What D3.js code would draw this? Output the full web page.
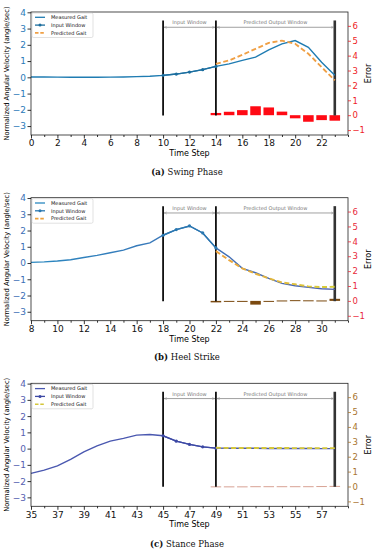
<!DOCTYPE html>
<html>
<head>
<meta charset="utf-8">
<script src="https://cdn.jsdelivr.net/npm/d3@7"></script>
<style>
  body{margin:0;background:#fff;}
  svg text{font-family:"DejaVu Sans",sans-serif;}
  .cap{font-family:"DejaVu Serif","Liberation Serif",serif;}
</style>
</head>
<body>
<svg id="chart" width="374" height="550"></svg>
<script>
// ---- data ----
var stepsA=[0,1,2,3,4,5,6,7,8,9,10,11,12,13,14,15,16,17,18,19,20,21,22,23];
var measuredA=[0.02,0.02,0.01,0.0,0.0,0.0,0.01,0.02,0.04,0.07,0.12,0.2,0.32,0.47,0.67,0.83,1.04,1.24,1.69,2.06,2.26,1.85,0.93,0.12];
var inputStepsA=[10,11,12,13,14];
var predStepsA=[14,15,16,17,18,19,20,21,22,23];
var predictedA=[0.83,1.04,1.39,1.75,2.12,2.26,2.06,1.45,0.63,-0.19];
var errorA=[0.15,0.23,0.34,0.6,0.52,0.24,-0.21,-0.44,-0.33,-0.37];
var windowA=[10,14,23];
var xTicksA=[0,2,4,6,8,10,12,14,16,18,20,22];

var stepsB=[8,9,10,11,12,13,14,15,16,17,18,19,20,21,22,23,24,25,26,27,28,29,30,31];
var measuredB=[0.04,0.07,0.12,0.2,0.34,0.47,0.63,0.79,1.06,1.24,1.71,2.06,2.28,1.85,0.93,0.38,-0.33,-0.6,-0.94,-1.25,-1.4,-1.5,-1.58,-1.62];
var inputStepsB=[18,19,20,21,22];
var predStepsB=[22,23,24,25,26,27,28,29,30,31];
var predictedB=[0.73,0.18,-0.33,-0.66,-0.94,-1.19,-1.31,-1.44,-1.48,-1.46];
var errorB=[-0.1,-0.04,-0.06,-0.25,-0.06,0.03,0.05,0.04,0.03,0.14];
var windowB=[18,22,31];
var xTicksB=[8,10,12,14,16,18,20,22,24,26,28,30];

var stepsC=[35,36,37,38,39,40,41,42,43,44,45,46,47,48,49,50,51,52,53,54,55,56,57,58];
var measuredC=[-1.52,-1.32,-1.06,-0.66,-0.2,0.17,0.46,0.63,0.83,0.87,0.79,0.46,0.26,0.11,0.03,0.02,0.02,0.02,0.01,0.01,0.01,0.01,0.0,0.0];
var inputStepsC=[45,46,47,48,49];
var predStepsC=[49,50,51,52,53,54,55,56,57,58];
var predictedC=[0.05,0.04,0.04,0.04,0.04,0.04,0.03,0.03,0.03,0.03];
var errorC=[0.01,0.01,0.01,0.02,0.02,0.02,0.02,0.02,0.03,0.04];
var windowC=[45,49,58];
var xTicksC=[35,37,39,41,43,45,47,49,51,53,55,57];

var leftTicks=[-3,-2,-1,0,1,2,3,4];
var rightTicks=[-1,0,1,2,3,4,5,6];
var legendNames=["Measured Gait","Input Window","Predicted Gait"];

var svg=d3.select("#chart");
var defs=svg.append("defs");
var plotLeft=31, plotRight=348, plotH=123;

function valueAt(steps,vals,s){ return vals[steps.indexOf(s)]; }

function drawPanel(p){
  var top=p.top, bottom=top+plotH;
  var x=d3.scaleLinear().domain(p.xDomain).range([plotLeft,plotRight]);
  var yL=d3.scaleLinear().domain([-3.55,4.02]).range([bottom,top]);
  var yR=d3.scaleLinear().domain([-1.33,6.93]).range([bottom,top]);
  var g=svg.append("g");

  // gradients (colours drift along the line in some panels)
  function strokeFor(name,c0,c1,s0,s1){
    if(!c1) return c0;
    var gr=defs.append("linearGradient").attr("id",name).attr("gradientUnits","userSpaceOnUse")
      .attr("x1",x(s0)).attr("x2",x(s1)).attr("y1",0).attr("y2",0);
    gr.append("stop").attr("offset",0).attr("stop-color",c0);
    gr.append("stop").attr("offset",1).attr("stop-color",c1);
    return "url(#"+name+")";
  }

  // error bars (right axis)
  g.append("g").selectAll("rect").data(p.predSteps).enter().append("rect")
    .attr("x",function(s){return x(s-0.4);})
    .attr("width",function(s){return x(s+0.4)-x(s-0.4);})
    .attr("y",function(s,i){return yR(Math.max(0,p.error[i]));})
    .attr("height",function(s,i){return Math.max(1,Math.abs(yR(p.error[i])-yR(0)));})
    .attr("fill",p.barColor);

  // window markers
  p.windows.forEach(function(w,i){
    g.append("line").attr("x1",x(w)).attr("x2",x(w))
      .attr("y1",yL(3.5)).attr("y2",yL(-2.35))
      .attr("stroke",i==2?"#333":"#000").attr("stroke-width",i==2?2.6:1.7);
  });
  var aw="arrow"+p.id;
  defs.append("marker").attr("id",aw).attr("viewBox","0 0 10 10").attr("refX",10).attr("refY",5)
    .attr("markerWidth",4).attr("markerHeight",4).attr("orient","auto-start-reverse")
    .append("path").attr("d","M0,1L10,5L0,9").attr("fill","none").attr("stroke","#888").attr("stroke-width",1.2);
  [[p.windows[0],p.windows[1],"Input Window"],[p.windows[1],p.windows[2],"Predicted Output Window"]].forEach(function(a){
    g.append("line").attr("x1",x(a[0])+1).attr("x2",x(a[1])-1)
      .attr("y1",yL(3.08)).attr("y2",yL(3.08))
      .attr("stroke","#888").attr("stroke-width",0.8)
      .attr("marker-start","url(#"+aw+")").attr("marker-end","url(#"+aw+")");
    g.append("text").attr("x",(x(a[0])+x(a[1]))/2).attr("y",yL(3.08)-3)
      .attr("text-anchor","middle").attr("font-size",5).attr("fill","#777").text(a[2]);
  });

  // series
  var line=d3.line().x(function(d){return x(d[0]);}).y(function(d){return yL(d[1]);});
  var meas=p.steps.map(function(s,i){return [s,p.measured[i]];});
  var pred=p.predSteps.map(function(s,i){return [s,p.predicted[i]];});
  var inp=p.inputSteps.map(function(s){return [s,valueAt(p.steps,p.measured,s)];});
  var mStroke=strokeFor("meas"+p.id,p.measColor,p.measColor2,p.steps[0],p.steps[p.steps.length-1]);
  var pStroke=strokeFor("pred"+p.id,p.predColor,p.predColor2,p.predSteps[0],p.predSteps[p.predSteps.length-1]);
  g.append("path").datum(meas).attr("d",line).attr("fill","none").attr("stroke",mStroke).attr("stroke-width",1.4);
  g.append("path").datum(inp).attr("d",line).attr("fill","none").attr("stroke",p.inputColor).attr("stroke-width",1.4);
  g.append("g").selectAll("circle").data(inp).enter().append("circle")
    .attr("cx",function(d){return x(d[0]);}).attr("cy",function(d){return yL(d[1]);})
    .attr("r",1.6).attr("fill",p.inputColor);
  g.append("path").datum(pred).attr("d",line).attr("fill","none").attr("stroke",pStroke)
    .attr("stroke-width",1.9).attr("stroke-dasharray","5,2.6");

  // frame
  g.append("rect").attr("x",plotLeft).attr("y",top).attr("width",plotRight-plotLeft).attr("height",plotH)
    .attr("fill","none").attr("stroke","#222").attr("stroke-width",0.8);

  // axes
  var minor=p.steps.filter(function(s){return p.xTicks.indexOf(s)<0;});
  minor.push(p.steps[p.steps.length-1]+1);
  var ax=g.append("g").attr("transform","translate(0,"+bottom+")")
    .call(d3.axisBottom(x).tickValues(p.xTicks).tickSize(3.5).tickPadding(1.5));
  ax.selectAll("text").attr("font-size",9).attr("fill","#111");
  g.append("g").attr("transform","translate(0,"+bottom+")")
    .call(d3.axisBottom(x).tickValues(minor).tickSize(2).tickFormat(""));
  var ay=g.append("g").attr("transform","translate("+plotLeft+",0)")
    .call(d3.axisLeft(yL).tickValues(leftTicks).tickSize(3.5).tickPadding(1.5));
  ay.selectAll("text").attr("font-size",9).attr("fill",p.leftTick);
  var ar=g.append("g").attr("transform","translate("+plotRight+",0)")
    .call(d3.axisRight(yR).tickValues(rightTicks).tickSize(3).tickPadding(1.5));
  ar.selectAll("text").attr("font-size",8.5).attr("fill",p.rightTick);
  ar.selectAll("line").attr("stroke",p.rightTick);
  g.selectAll(".domain").remove();
  g.selectAll(".tick line").attr("stroke-width",0.8);

  // axis titles
  g.append("text").attr("x",(plotLeft+plotRight)/2).attr("y",bottom+21)
    .attr("text-anchor","middle").attr("font-size",8).text("Time Step");
  g.append("text").attr("transform","translate(9,"+(top+plotH/2)+") rotate(-90)")
    .attr("text-anchor","middle").attr("font-size",7).attr("textLength",134).attr("lengthAdjust","spacingAndGlyphs")
    .text("Normalized Angular Velocity (angle/sec)");
  g.append("text").attr("transform","translate(371,"+(top+plotH/2)+") rotate(-90)")
    .attr("text-anchor","middle").attr("font-size",8).text("Error");

  // legend
  var lg=g.append("g").attr("transform","translate("+(plotLeft+1)+","+(top+1)+")");
  lg.append("rect").attr("width",61).attr("height",24.5).attr("rx",1.5)
    .attr("fill","#fff").attr("stroke","#ccc").attr("stroke-width",0.6);
  legendNames.forEach(function(n,i){
    var yy=4.3+i*7.8;
    var col=[p.measColor,p.inputColor,p.predColor][i];
    var l=lg.append("line").attr("x1",3).attr("x2",13).attr("y1",yy).attr("y2",yy)
      .attr("stroke",col).attr("stroke-width",i==2?1.6:1.3);
    if(i==2) l.attr("stroke-dasharray","3.5,1.8");
    if(i==1) lg.append("circle").attr("cx",8).attr("cy",yy).attr("r",1.5).attr("fill",col);
    lg.append("text").attr("x",19).attr("y",yy+1.8).attr("font-size",5).attr("fill","#111").text(n);
  });

  // caption
  var cap=svg.append("text").attr("class","cap").attr("x",187).attr("y",p.capY)
    .attr("text-anchor","middle").attr("font-size",8.5).attr("fill","#111");
  cap.append("tspan").attr("font-weight","bold").text(p.capTag);
  cap.append("tspan").text(" "+p.capText);
}

drawPanel({id:"a",top:12,xDomain:[0,24],steps:stepsA,measured:measuredA,inputSteps:inputStepsA,
  predSteps:predStepsA,predicted:predictedA,error:errorA,windows:windowA,xTicks:xTicksA,
  measColor:"#1f7cb2",inputColor:"#1d6e9e",predColor:"#f0a045",barColor:"#ff0a14",
  leftTick:"#2b7bb9",rightTick:"#ee1c25",capY:175,capTag:"(a)",capText:"Swing Phase"});
drawPanel({id:"b",top:197.7,xDomain:[8,32],steps:stepsB,measured:measuredB,inputSteps:inputStepsB,
  predSteps:predStepsB,predicted:predictedB,error:errorB,windows:windowB,xTicks:xTicksB,
  measColor:"#2a88c0",measColor2:"#4f62b0",inputColor:"#2a78b0",predColor:"#eda13c",predColor2:"#d6cf38",barColor:"#7b4a10",
  leftTick:"#3b6fb6",rightTick:"#e8283a",capY:360,capTag:"(b)",capText:"Heel Strike"});
drawPanel({id:"c",top:383.3,xDomain:[35,59],steps:stepsC,measured:measuredC,inputSteps:inputStepsC,
  predSteps:predStepsC,predicted:predictedC,error:errorC,windows:windowC,xTicks:xTicksC,
  measColor:"#4a58b0",inputColor:"#3c48a4",predColor:"#d4c63a",barColor:"#d8a294",
  leftTick:"#5560b0",rightTick:"#a8742e",capY:547,capTag:"(c)",capText:"Stance Phase"});
</script>
</body>
</html>
